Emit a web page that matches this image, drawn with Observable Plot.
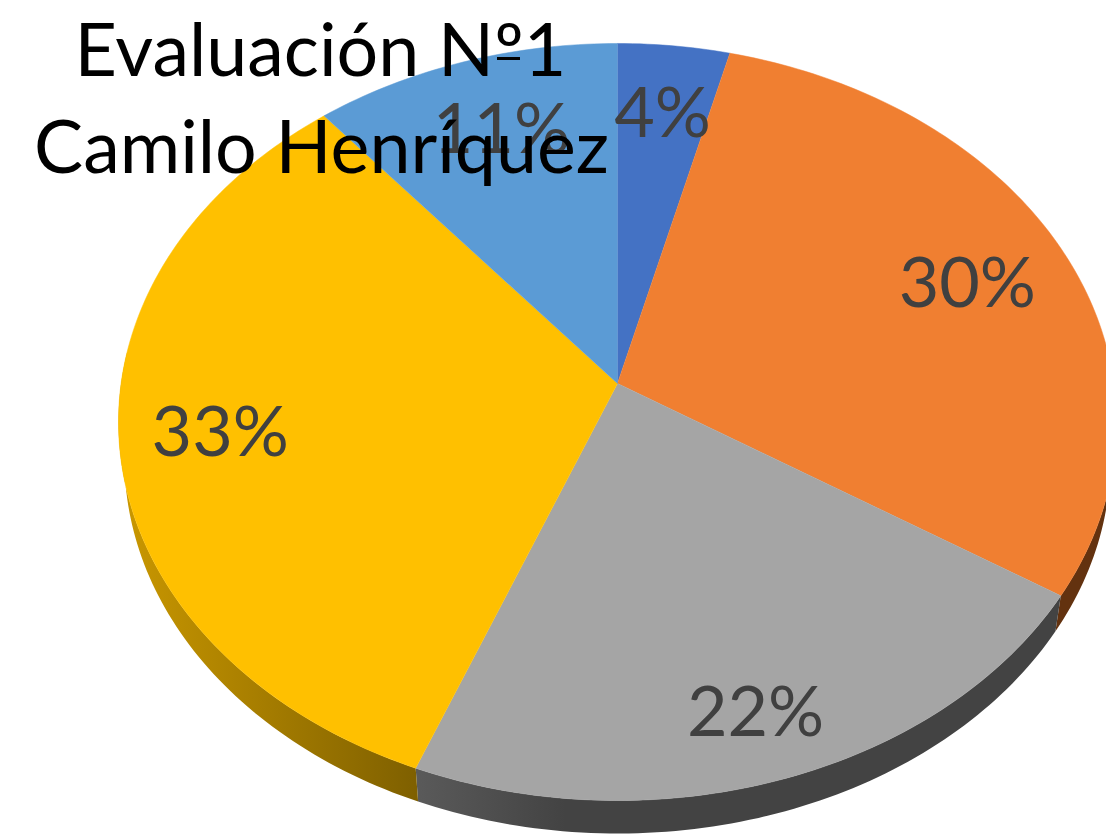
<!DOCTYPE html>
<html lang="es">
<head>
<meta charset="utf-8">
<script src="https://cdn.jsdelivr.net/npm/d3@7"></script>
<script src="https://cdn.jsdelivr.net/npm/@observablehq/plot@0.6"></script>
<style>
html,body{margin:0;padding:0;background:#fff;overflow:hidden}
svg{display:block}
</style>
</head>
<body>
<div id="chart"></div>
<script>
const categories = ["A", "B", "C", "D", "E"];
const percents = [4, 30, 22, 33, 11];
const sliceColors = ["#4472C4", "#F07F31", "#A5A5A5", "#FFC000", "#5B9BD5"];
const labelRadius = [0.78, 0.78, 0.85, 0.8, 0.78];
const labelNudgeX = [0, 0, -4, 0, 6];
const labelNudgeY = [0, 6, 0, 3, 3];
const titleLines = ["Evaluación Nº1", "Camilo Henríquez"];

const W = 1106, H = 835;
const apex = {x: 617, y: 383}, A = 496.4, B = 374.6, K = 0.1017;
const wallDrop = 38, wallScale = 0.988;
const rad = Math.PI / 180;

// Tilted disc: polar position on the pie -> offsets from the apex
function disc(theta, r = 1) {
  const u = r * Math.sin(theta), v = -r * Math.cos(theta), d = 1 - K * v;
  return [A * u / d, B * v / d];
}
const total = d3.sum(percents);
let run = 0;
const slices = percents.map((p, i) => {
  const a0 = run / total * 2 * Math.PI;
  run += p;
  return {i, p, a0, a1: run / total * 2 * Math.PI};
});

const topRows = [], wallRows = [];
const wallFills = {1: "#63320F", 2: "url(#wall-gray)", 3: "url(#wall-yellow)"};
const wallFrom = 85 * rad, wallTo = 275 * rad;
for (const s of slices) {
  topRows.push({id: s.i, x: apex.x, y: apex.y, c: sliceColors[s.i]});
  const n = Math.ceil((s.a1 - s.a0) / rad);
  for (let k = 0; k <= n; k++) {
    const [dx, dy] = disc(s.a0 + (s.a1 - s.a0) * k / n);
    topRows.push({id: s.i, x: apex.x + dx, y: apex.y + dy, c: sliceColors[s.i]});
  }
  const w0 = Math.max(s.a0, wallFrom), w1 = Math.min(s.a1, wallTo);
  if (w1 > w0) {
    const m = Math.ceil((w1 - w0) / rad), upper = [], lower = [];
    for (let k = 0; k <= m; k++) {
      const [x, y] = disc(w0 + (w1 - w0) * k / m);
      upper.push([x, y]);
      lower.push([x * wallScale, y * wallScale + wallDrop]);
    }
    for (const [x, y] of [...upper, ...lower.reverse()])
      wallRows.push({id: s.i, x: apex.x + x, y: apex.y + y, c: wallFills[s.i]});
  }
}
const labelRows = slices.map(s => {
  const [dx, dy] = disc((s.a0 + s.a1) / 2, labelRadius[s.i]);
  return {x: apex.x + dx + labelNudgeX[s.i], y: apex.y + dy + labelNudgeY[s.i], t: s.p + "%"};
});
const titleRows = titleLines.map((t, i) => ({t, x: [320, 321][i], y: [52, 149][i]}));

function gradient(id, x1, x2, from, to) {
  return `<linearGradient id="${id}" gradientUnits="userSpaceOnUse" x1="${x1}" x2="${x2}" y1="0" y2="0"><stop offset="0" stop-color="${from}"/><stop offset="1" stop-color="${to}"/></linearGradient>`;
}
const defs = () => {
  const g = document.createElementNS("http://www.w3.org/2000/svg", "defs");
  g.innerHTML = gradient("wall-yellow", 124, 415, "#C99700", "#7F6000") +
                gradient("wall-gray", 415, 565, "#5A5A5A", "#434343");
  return g;
};

const font = "Lato, 'Noto Sans', sans-serif";
const chart = Plot.plot({
  width: W, height: H, margin: 0, axis: null,
  x: {domain: [0, W], range: [0, W]},
  y: {domain: [0, H], range: [0, H]},
  color: {type: "identity"},
  style: {background: "#fff", fontFamily: font},
  marks: [
    defs,
    Plot.line(wallRows, {x: "x", y: "y", z: "id", fill: "c", stroke: "none"}),
    Plot.line(topRows, {x: "x", y: "y", z: "id", fill: "c", stroke: "c", strokeWidth: 0.5}),
    Plot.text(labelRows, {x: "x", y: "y", text: "t", fill: "#404040", fontSize: 70, fontFamily: font}),
    Plot.text(titleRows, {x: "x", y: "y", text: "t", fill: "#000", fontSize: 73.5, fontFamily: font}),
    // underline of the ordinal sign in "Nº"
    Plot.ruleY([58], {x1: 497, x2: 520, stroke: "#000", strokeWidth: 3})
  ]
});
document.getElementById("chart").append(chart);
</script>
</body>
</html>
